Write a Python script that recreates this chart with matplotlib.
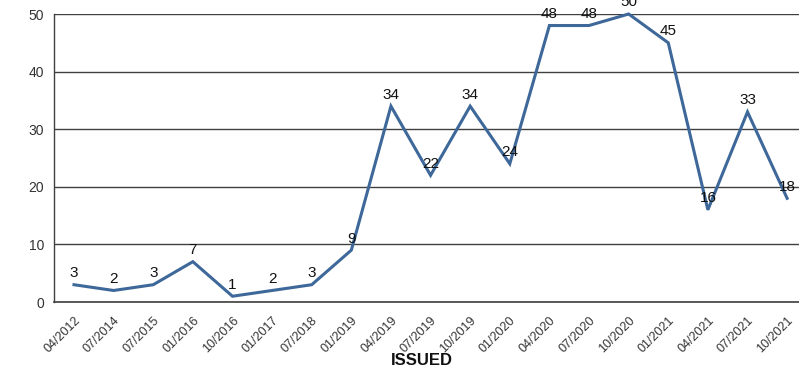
import matplotlib
matplotlib.use("Agg")
import matplotlib.pyplot as plt
from matplotlib.transforms import ScaledTranslation

plt.rcParams['font.family'] = ['Liberation Sans', 'DejaVu Sans']

periods = ["04/2012", "07/2014", "07/2015", "01/2016", "10/2016", "01/2017",
           "07/2018", "01/2019", "04/2019", "07/2019", "10/2019", "01/2020",
           "04/2020", "07/2020", "10/2020", "01/2021", "04/2021", "07/2021",
           "10/2021"]
issued = [3, 2, 3, 7, 1, 2, 3, 9, 34, 22, 34, 24, 48, 48, 50, 45, 16, 33, 18]
y_ticks = [0, 10, 20, 30, 40, 50]

W, H = 799, 371
fig = plt.figure(figsize=(W / 100, H / 100), dpi=100)
ax = fig.add_axes([54 / W, 1 - 302 / H, 1 - 54 / W, (302 - 14) / H])

x = list(range(len(periods)))
ax.plot(x, issued, color="#3d6899", linewidth=2.2, solid_joinstyle="miter",
        zorder=3, clip_on=False)

for xi, v in zip(x, issued):
    ax.annotate(str(v), (xi, v), xytext=(0, 5.5), textcoords="offset points",
                ha="center", va="baseline", fontsize=11, color="#111111",
                annotation_clip=False, zorder=4)

ax.set_ylim(0, 50)
ax.set_xlim(-0.505, 18.3)
ax.set_yticks(y_ticks)
ax.yaxis.grid(True, color="#404040", linewidth=1.0)
ax.set_axisbelow(True)

for side in ("top", "right"):
    ax.spines[side].set_visible(False)
ax.spines["left"].set_color("#404040")
ax.spines["bottom"].set_color("#404040")
ax.spines["left"].set_linewidth(1.0)
ax.spines["bottom"].set_linewidth(1.2)

ax.set_xticks(x)
ax.set_xticklabels(periods, rotation=45, ha="right", va="top",
                   rotation_mode="anchor", fontsize=9, color="#333333")
ax.tick_params(axis="x", length=0, pad=9)
ax.tick_params(axis="y", length=0, pad=7, labelsize=10, labelcolor="#333333")

fig.text(421.5 / W, 1 - 360.5 / H, "ISSUED", ha="center", va="center",
         fontsize=12, fontweight="bold", color="#111111")

fig.savefig("out.png", dpi=100)
